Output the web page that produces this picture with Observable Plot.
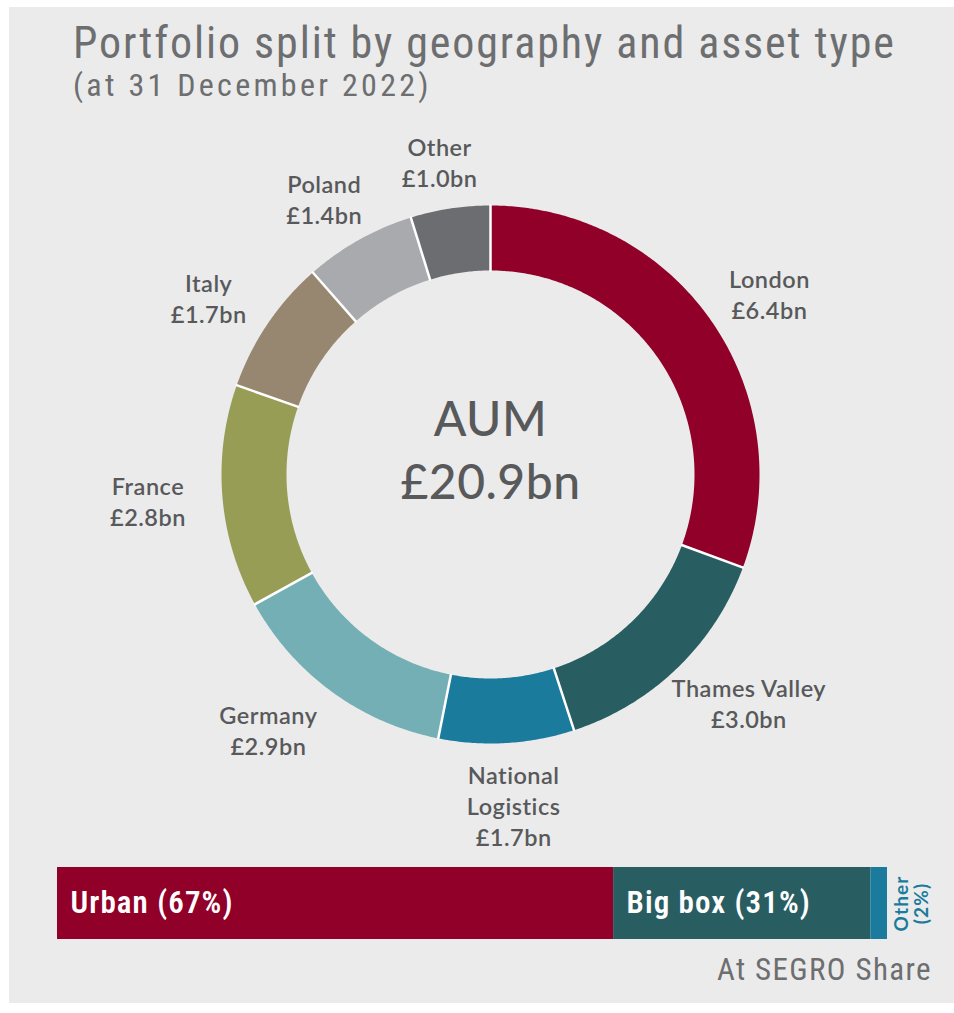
<!DOCTYPE html>
<html>
<head>
<meta charset="utf-8">
<script src="https://cdn.jsdelivr.net/npm/d3@7"></script>
<script src="https://cdn.jsdelivr.net/npm/@observablehq/plot@0.6"></script>
<style>
  html, body { margin: 0; padding: 0; background: #ffffff; }
  #panel { position: absolute; left: 9px; top: 7px; width: 945px; height: 996px; background: #ebebeb; overflow: hidden; }
  .title { position: absolute; left: 64px; top: 14px; font-family: "Roboto Condensed", "Liberation Sans Narrow", sans-serif; font-size: 44px; line-height: 44px; letter-spacing: 1.9px; color: #6d6e70; white-space: nowrap; }
  .subtitle { position: absolute; left: 64px; top: 62px; font-family: "Roboto Condensed", "Liberation Sans Narrow", sans-serif; font-size: 32px; line-height: 32px; letter-spacing: 3.3px; color: #6d6e70; white-space: nowrap; }
  #donut { position: absolute; left: 0; top: 103px; }
  #donut svg text { letter-spacing: 0.5px; }
  #bar { position: absolute; left: 0; top: 851px; }
  #bar svg text { letter-spacing: 1.1px; }
  .caption { position: absolute; right: 22px; top: 947px; font-family: "Roboto Condensed", "Liberation Sans Narrow", sans-serif; font-size: 31px; line-height: 32px; letter-spacing: 1.4px; color: #6d6e70; }
</style>
</head>
<body>
<div id="panel">
  <div class="title">Portfolio split by geography and asset type</div>
  <div class="subtitle">(at 31 December 2022)</div>
  <div id="donut"></div>
  <div id="bar"></div>
  <div class="caption">At SEGRO Share</div>
</div>
<script>
// ---- Data ----
const regionNames = ["London", "Thames Valley", "National\nLogistics", "Germany", "France", "Italy", "Poland", "Other"];
const regionValues = [6.4, 3.0, 1.7, 2.9, 2.8, 1.7, 1.4, 1.0];
const regionColors = ["#900028", "#285d62", "#1a7b9c", "#74afb6", "#979d55", "#978670", "#a9aaad", "#6c6d70"];
const centerLabel = "AUM";

const assetTypes = ["Urban", "Big box", "Other"];
const assetShares = [67, 31, 2];
const assetColors = ["#900028", "#285d62", "#1a7b9c"];

// ---- Derived tables ----
const regions = regionNames.map((name, i) => ({name, value: regionValues[i]}));
const total = d3.sum(regionValues);
const assets = assetTypes.map((type, i) => ({type, share: assetShares[i]}));

const R_OUT = 269, R_IN = 204;
const arcs = d3.pie().sort(null).value(d => d.value)(regions);

// polygon outline of each ring segment (angles clockwise from 12 o'clock)
const ringPoints = arcs.flatMap(a => {
  const n = Math.max(2, Math.ceil((a.endAngle - a.startAngle) / (Math.PI / 360)));
  const pts = [];
  for (let k = 0; k <= n; k++) {
    const t = a.startAngle + (a.endAngle - a.startAngle) * k / n;
    pts.push({name: a.data.name, x: R_OUT * Math.sin(t), y: R_OUT * Math.cos(t)});
  }
  for (let k = n; k >= 0; k--) {
    const t = a.startAngle + (a.endAngle - a.startAngle) * k / n;
    pts.push({name: a.data.name, x: R_IN * Math.sin(t), y: R_IN * Math.cos(t)});
  }
  pts.push({...pts[0]});
  return pts;
});

const separators = arcs.map(a => ({
  x1: (R_IN - 1) * Math.sin(a.startAngle), y1: (R_IN - 1) * Math.cos(a.startAngle),
  x2: (R_OUT + 1) * Math.sin(a.startAngle), y2: (R_OUT + 1) * Math.cos(a.startAngle)
}));

const labels = arcs.map(a => {
  const mid = (a.startAngle + a.endAngle) / 2;
  const lines = a.data.name.split("\n").length + 1;
  const rx = 340 + 45 * Math.max(0, -Math.cos(mid));
  const ry = 316 + (lines - 2) * 15.5 * Math.abs(Math.cos(mid));
  return {
    x: rx * Math.sin(mid),
    y: ry * Math.cos(mid),
    text: `${a.data.name}\n£${a.data.value.toFixed(1)}bn`
  };
});

const labelFont = "Lato, 'Open Sans', sans-serif";

const donut = Plot.plot({
  width: 945,
  height: 750,
  margin: 0,
  style: {background: "transparent"},
  x: {domain: [-481, 464], axis: null},
  y: {domain: [-386, 364], axis: null},
  color: {domain: regionNames, range: regionColors},
  marks: [
    Plot.line(ringPoints, {x: "x", y: "y", z: "name", fill: "name", stroke: "none", curve: "linear"}),
    Plot.link(separators, {x1: "x1", y1: "y1", x2: "x2", y2: "y2", stroke: "white", strokeWidth: 2.5}),
    Plot.text(labels, {x: "x", y: "y", text: "text", fontSize: 23.5, lineHeight: 1.32, fill: "#58595b",
      fontFamily: labelFont, fontWeight: 600, textAnchor: "middle"}),
    Plot.text([{text: `${centerLabel}\n£${total.toFixed(1)}bn`}], {x: () => 0, y: () => 0, text: "text",
      fontSize: 48, lineHeight: 1.3, dy: -27, fill: "#58595b", fontFamily: labelFont, fontWeight: 500})
  ]
});
document.getElementById("donut").appendChild(donut);

const bar = Plot.plot({
  width: 945,
  height: 145,
  marginLeft: 48,
  marginRight: 67,
  marginTop: 9,
  marginBottom: 64,
  style: {background: "transparent"},
  x: {domain: [0, 100], axis: null},
  y: {axis: null},
  color: {domain: assetTypes, range: assetColors},
  marks: [
    Plot.barX(assets, Plot.stackX({x: "share", fill: "type"})),
    Plot.text(assets, Plot.stackX1({x: "share", text: d => d.share >= 10 ? `${d.type} (${d.share}%)` : null,
      fill: "white", textAnchor: "start", dx: 13, fontSize: 31, fontWeight: 600,
      fontFamily: "'Roboto Condensed', 'Liberation Sans Narrow', sans-serif"})),
    Plot.text(assets, Plot.stackX2({x: "share", text: d => d.share < 10 ? `${d.type}\n(${d.share}%)` : null,
      fill: "type", rotate: -90, dx: 24, fontSize: 19, lineHeight: 1.05, fontWeight: 700,
      fontFamily: labelFont}))
  ]
});
document.getElementById("bar").appendChild(bar);
</script>
</body>
</html>
